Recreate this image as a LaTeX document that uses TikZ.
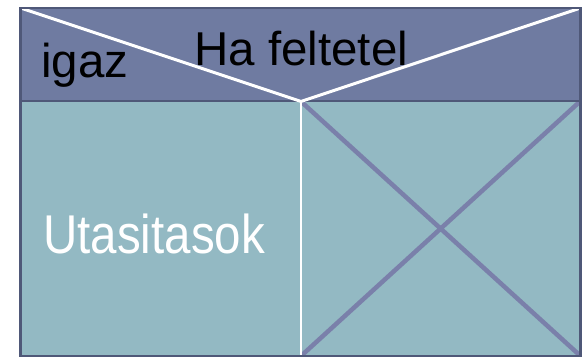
\documentclass[tikz,border=0pt]{standalone}
\usepackage{fontspec}
\setmainfont{Liberation Sans}
\definecolor{headfill}{HTML}{6F7BA1}
\definecolor{bodyfill}{HTML}{93B9C3}
\definecolor{edge}{HTML}{4F5878}
\definecolor{xline}{HTML}{7A80AA}
\tikzset{
  lbl/.style={anchor=base west, inner sep=0pt, font=\fontsize{47.5}{52}\selectfont},
  whiteline/.style={draw=white, line width=3pt},
  crossline/.style={draw=xline, line width=4.5pt},
}
\begin{document}
\begin{tikzpicture}[x=1pt,y=-1pt]
\useasboundingbox (0,0) rectangle (584,358);
% coordinates
\coordinate (TL) at (20.5,8);
\coordinate (TR) at (580.5,8);
\coordinate (HL) at (20.5,101);
\coordinate (HR) at (580.5,101);
\coordinate (HM) at (301,101.5);
\coordinate (BL) at (20.5,356);
\coordinate (BM) at (301,356);
\coordinate (BR) at (580.5,356);
% fills
\fill[headfill] (TL) rectangle (HR);
\fill[bodyfill] (HL) rectangle (BR);
% cross in the right cell
\begin{scope}
\clip (HM) rectangle (BR);
\draw[crossline] (HM) -- (BR);
\draw[crossline] (HR) -- (BM);
\end{scope}
% header separator
\draw[edge, line width=2.5pt] (HL) -- (HR);
% white V in header and divider
\draw[whiteline, line join=miter] (TL) -- (HM) -- (TR);
\draw[draw=white, line width=2.5pt] (HM) -- (BM);
% outer border
\draw[edge, line width=2.5pt] (TL) rectangle (BR);
% labels
\node[lbl] (cond) at (194,66) {Ha feltetel};
\node[lbl] (yes) at (41,78) {igaz};
\node[lbl, white, yscale=1.15] (stmt) at (43,254) {Utasitasok};
\end{tikzpicture}
\end{document}
